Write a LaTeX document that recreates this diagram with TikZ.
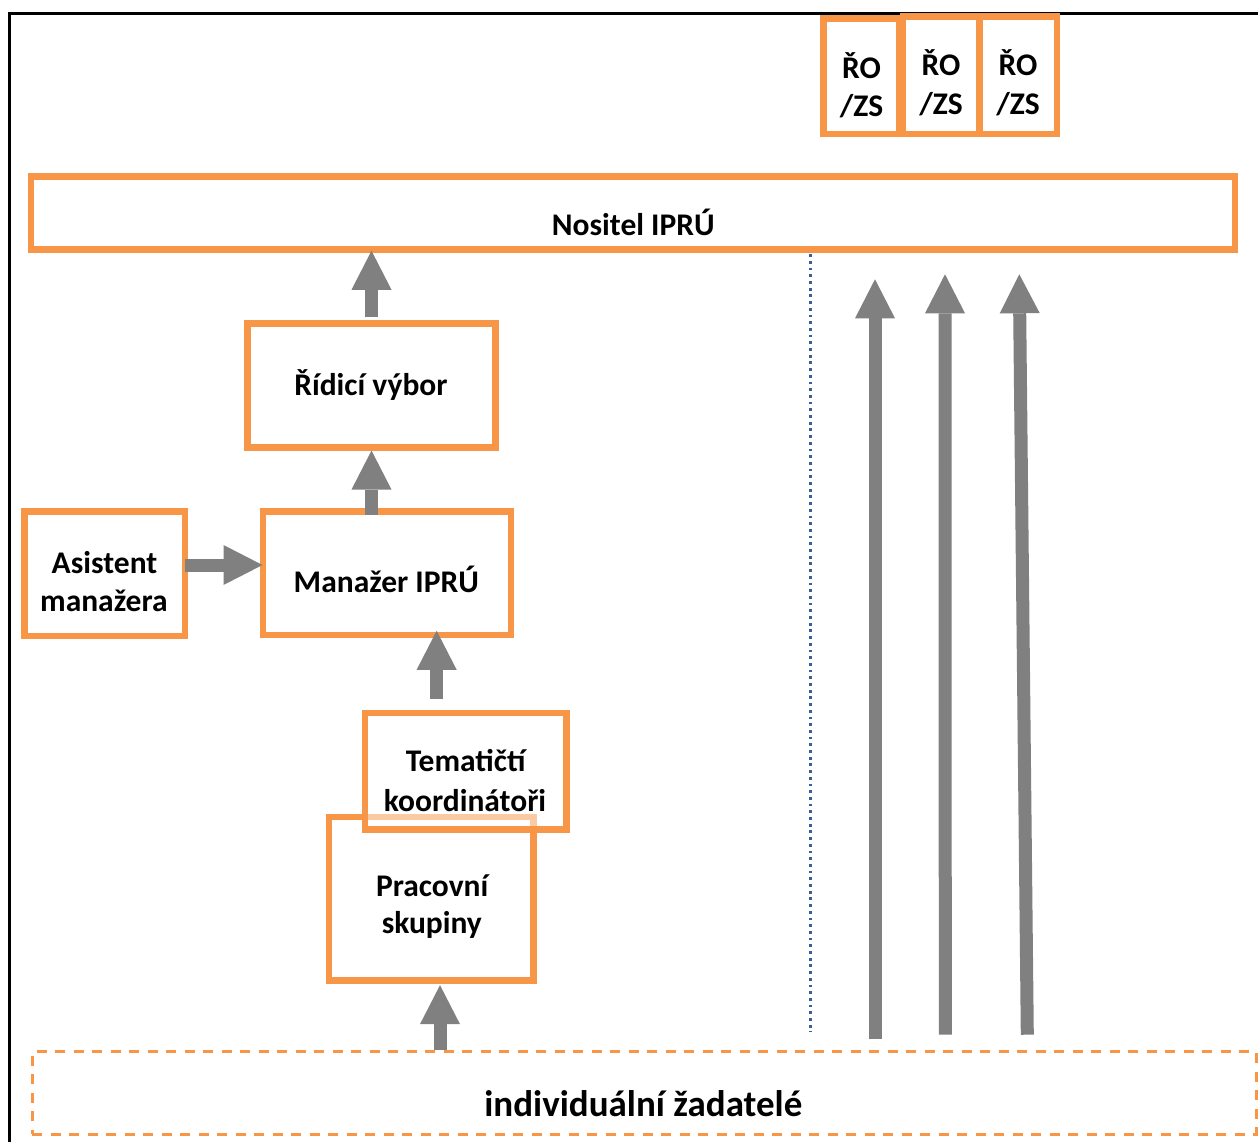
\documentclass[tikz,border=0pt]{standalone}
\usepackage{fontspec}
\setmainfont{Carlito}
\usetikzlibrary{arrows.meta}
\definecolor{boxorange}{HTML}{F79646}
\definecolor{arrowgray}{HTML}{808080}
\definecolor{dotblue}{HTML}{3A5F94}
\begin{document}
\begin{tikzpicture}[x=1pt,y=-1pt,
  box/.style={draw=boxorange, line width=6.5pt, inner sep=0pt, rectangle},
  dashbox/.style={draw=boxorange, line width=3pt, inner sep=0pt, rectangle, dash pattern=on 10pt off 8.5pt},
  txt/.style={anchor=base, inner sep=0pt, font=\fontsize{31.5}{38}\selectfont\bfseries},
  bigtxt/.style={anchor=base, inner sep=0pt, font=\fontsize{37}{44}\selectfont\bfseries},
  bigarrow/.style={draw=arrowgray, line width=13pt, -{Triangle[length=39pt,width=40pt,line width=0pt]}},
  dotline/.style={draw=dotblue, line width=2.6pt, dash pattern=on 2.8pt off 3.9pt}]
\fill[white] (0,0) rectangle (1258,1142);
\useasboundingbox (0,0) rectangle (1258,1142);
% frame
\draw[black, line width=2.5pt] (9.5,1142) -- (9.5,13.3) -- (1258,13.3);
% boxes
\node[box, minimum width=1204pt, minimum height=73pt] (nositel) at (633,213) {};
\node[box, minimum width=75.3pt, minimum height=115.3pt] (ro1) at (861.35,76.35) {};
\node[box, minimum width=76.3pt, minimum height=117.3pt] (ro2) at (941.15,75.35) {};
\node[box, minimum width=77.3pt, minimum height=117.3pt] (ro3) at (1018.35,75.35) {};
\node[box, minimum width=248pt, minimum height=124pt] (ridici) at (371.5,385.3) {};
\node[box, minimum width=160.4pt, minimum height=124.3pt] (asistent) at (104.8,573.85) {};
\node[box, minimum width=248pt, minimum height=123.3pt] (manazer) at (387,573.35) {};
\node[box, minimum width=204.7pt, minimum height=163.7pt] (prac) at (431.35,898.85) {};
\node[box, fill=white, fill opacity=0.5, minimum width=201.3pt, minimum height=116.7pt] (tema) at (465.65,771.35) {};
\node[dashbox, minimum width=1224pt, minimum height=82.6pt] (indiv) at (644,1093) {};
% texts
\node[txt] (tnositel) at (633.3,236) {Nositel IPRÚ};
\node[txt] (tro1a) at (861.5,78.3) {ŘO};
\node[txt] (tro1b) at (861.5,116.7) {/ZS};
\node[txt] (tro2a) at (941,76) {ŘO};
\node[txt] (tro2b) at (941,115) {/ZS};
\node[txt] (tro3a) at (1018.1,76) {ŘO};
\node[txt] (tro3b) at (1018.1,115) {/ZS};
\node[txt] (tridici) at (370.9,395) {Řídicí výbor};
\node[txt] (tasista) at (104.5,573.3) {Asistent};
\node[txt] (tasistb) at (103.9,611.7) {manažera};
\node[txt] (tmanazer) at (386.3,592.7) {Manažer IPRÚ};
\node[txt] (ttemaa) at (465.7,771.7) {Tematičtí};
\node[txt] (ttemab) at (465,811) {koordinátoři};
\node[txt] (tpraca) at (432.2,896.7) {Pracovní};
\node[txt] (tpracb) at (431.8,933.3) {skupiny};
\node[bigtxt] (tindiv) at (643.3,1116) {individuální žadatelé};
% dotted divider
\coordinate (dotb) at (810.5,1032);
\draw[dotline] ([yshift=-1.5pt]nositel.south -| dotb) -- (dotb);
% arrows between boxes
\draw[bigarrow, shorten <=2.7pt, shorten >=-2pt] (ridici.north) -- (ridici.north |- nositel.south);
\coordinate (a2) at (ridici.south |- manazer.north);
\draw[bigarrow, shorten <=-6.5pt] (a2) -- (ridici.south);
\coordinate (a3) at ([xshift=-29pt]tema.north);
\draw[bigarrow, shorten <=10.5pt, shorten >=-7.5pt] (a3) -- (a3 |- manazer.south);
\coordinate (a4) at ([yshift=8.85pt]asistent.east);
\draw[bigarrow, shorten <=-3.25pt, shorten >=-2.75pt] (a4) -- (a4 -| manazer.west);
\coordinate (a5) at ([xshift=8.65pt]prac.south);
\draw[bigarrow, shorten >=1.2pt] (a5 |- indiv.north) -- (a5);
% long arrows towards Nositel
\coordinate (l1b) at (875,1039);
\coordinate (l1t) at (875,279.3);
\coordinate (l2b) at (945.3,1034.7);
\coordinate (l2t) at (945,274.3);
\coordinate (l3b) at (1027.3,1034.7);
\coordinate (l3t) at (1019.3,274.3);
\draw[bigarrow] (l1b) -- (l1t);
\draw[bigarrow] (l2b) -- (l2t);
\draw[bigarrow] (l3b) -- (l3t);
\end{tikzpicture}
\end{document}
